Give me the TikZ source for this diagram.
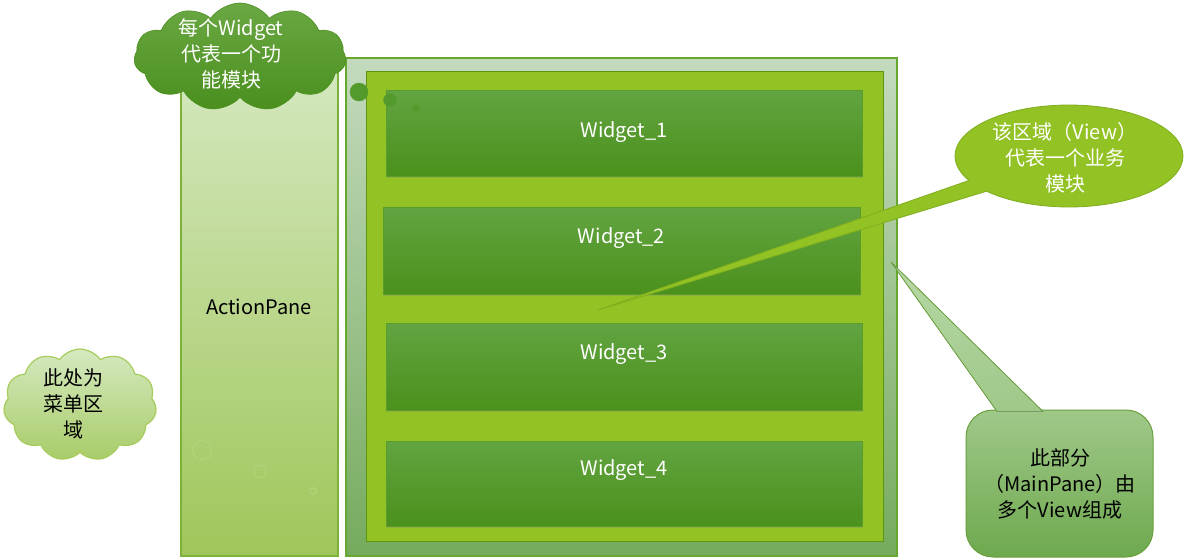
\documentclass[tikz,border=0pt]{standalone}
\usepackage{fontspec}
\setmainfont{Noto Sans CJK SC}
\usetikzlibrary{shapes.symbols,shapes.callouts,shadows}
\definecolor{apTop}{HTML}{D5E8C0}
\definecolor{apBot}{HTML}{A0C65A}
\definecolor{apLine}{HTML}{7CB23A}
\definecolor{mpTop}{HTML}{C4DABE}
\definecolor{mpBot}{HTML}{75AB5D}
\definecolor{mpLine}{HTML}{66A82E}
\definecolor{inFill}{HTML}{92C223}
\definecolor{inLine}{HTML}{5F9515}
\definecolor{wTop}{HTML}{62A441}
\definecolor{wBot}{HTML}{4B911C}
\definecolor{wLine}{HTML}{5A9C2E}
\definecolor{dkCirc}{HTML}{519A2B}
\definecolor{ltCirc}{HTML}{B3D37A}
\definecolor{cTop}{HTML}{6AA843}
\definecolor{cBot}{HTML}{4A8F1E}
\definecolor{lcTop}{HTML}{D5E9C0}
\definecolor{lcBot}{HTML}{A8CC68}
\definecolor{lcLine}{HTML}{A6CC5C}
\definecolor{elFill}{HTML}{92C224}
\definecolor{elLine}{HTML}{7FAE1E}
\definecolor{rrTop}{HTML}{9FC889}
\definecolor{rrBot}{HTML}{6EA94E}
\definecolor{rrLine}{HTML}{6AA03C}
\definecolor{ptTop}{HTML}{B8D8A6}
\begin{document}
\begin{tikzpicture}[x=1pt,y=-1pt,
  box/.style={rectangle,inner sep=0pt,outer sep=0pt,anchor=north west},
  widget/.style={box,draw=wLine,line width=0.8pt,top color=wTop,bottom color=wBot,
     drop shadow={opacity=0.25,shadow xshift=1pt,shadow yshift=-2pt}},
  wtext/.style={text=white,font=\fontsize{20}{26}\selectfont},
  btext/.style={text=black,font=\fontsize{20}{26}\selectfont,align=center},
  ctext/.style={text=white,font=\fontsize{20}{26}\selectfont,align=center},
  dkcirc/.style={circle,inner sep=0pt,fill=dkCirc,draw=wLine},
  ltcirc/.style={circle,inner sep=0pt,draw=ltCirc,line width=1.2pt}
]
\useasboundingbox (0,0) rectangle (1184,558);

% ActionPane
\node[box,draw=apLine,line width=1.2pt,top color=apTop,bottom color=apBot,
  minimum width=157pt,minimum height=496pt] (ap) at (181,60) {};
\node[btext] (aptext) at (259,307) {ActionPane};

% light thought circles
\node[ltcirc,minimum size=19pt] (lc1) at (202,450) {};
\node[ltcirc,minimum size=12.6pt] (lc2) at (260,471.5) {};
\node[ltcirc,minimum size=6.6pt] (lc3) at (313,491) {};

% MainPane
\node[box,draw=mpLine,line width=1.2pt,top color=mpTop,bottom color=mpBot,
  minimum width=551pt,minimum height=498pt] (mp) at (346,58) {};
\node[box,draw=inLine,line width=1pt,fill=inFill,
  minimum width=517pt,minimum height=470pt] (in) at (366,71) {};

% Widgets
\node[widget,minimum width=476pt,minimum height=86pt] (w1) at (386,90) {};
\node[widget,minimum width=477pt,minimum height=87pt] (w2) at (383,207) {};
\node[widget,minimum width=476pt,minimum height=87pt] (w3) at (386,323) {};
\node[widget,minimum width=476pt,minimum height=85pt] (w4) at (386,441) {};
\node[wtext] (t1) at ([yshift=1pt]w1.center) {Widget\_1};
\node[wtext] (t2) at ([yshift=12pt]w2.center) {Widget\_2};
\node[wtext] (t3) at ([yshift=12pt]w3.center) {Widget\_3};
\node[wtext] (t4) at ([yshift=13pt]w4.center) {Widget\_4};

% dark thought circles
\node[dkcirc,minimum size=18pt] (dc1) at (359,92) {};
\node[dkcirc,minimum size=13pt] (dc2) at (390,100) {};
\node[dkcirc,minimum size=6.6pt] (dc3) at (416,108) {};

% upper cloud
\node[cloud,cloud puffs=11,cloud puff arc=110,draw=cBot,line width=0.6pt,
  top color=cTop,bottom color=cBot,minimum width=212pt,minimum height=108pt,
  inner sep=0pt] (uc) at (240,57) {};
\node[ctext] (uctext) at (231,54) {每个Widget\\代表一个功\\能模块};

% lower cloud
\node[cloud,cloud puffs=11,cloud puff arc=110,draw=lcLine,line width=1.2pt,
  top color=lcTop,bottom color=lcBot,minimum width=153pt,minimum height=112pt,
  inner sep=0pt] (lc) at (80,405) {};
\node[btext] (lctext) at (73,404) {此处为\\菜单区\\域};

% ellipse callout (View)
\coordinate (vtip) at (598,310);
\node[ellipse callout,callout absolute pointer={(vtip)},callout pointer arc=15,
  fill=elFill,draw=elLine,line width=0.8pt,minimum width=228pt,minimum height=102pt,
  inner sep=0pt] (el) at (1069,156) {};
\node[ctext] (eltext) at (1065,158) {该区域（View）\\代表一个业务\\模块};

% rounded rectangle callout (MainPane)
\node[box,rounded corners=27pt,draw=rrLine,line width=1pt,top color=rrTop,bottom color=rrBot,
  minimum width=187pt,minimum height=147pt] (rr) at (966,410) {};
\coordinate (mtip) at (891,262);
\coordinate (mb1) at (997,411.5);
\coordinate (mb2) at (1043,411.5);
\fill[top color=ptTop,bottom color=rrTop] (mb1) -- (mtip) -- (mb2) -- cycle;
\draw[rrLine,line width=0.8pt] (mb1) -- (mtip) -- (mb2);
\node[btext] (rrtext) at (1060,484) {此部分\\（MainPane）由\\多个View组成};
\end{tikzpicture}
\end{document}
